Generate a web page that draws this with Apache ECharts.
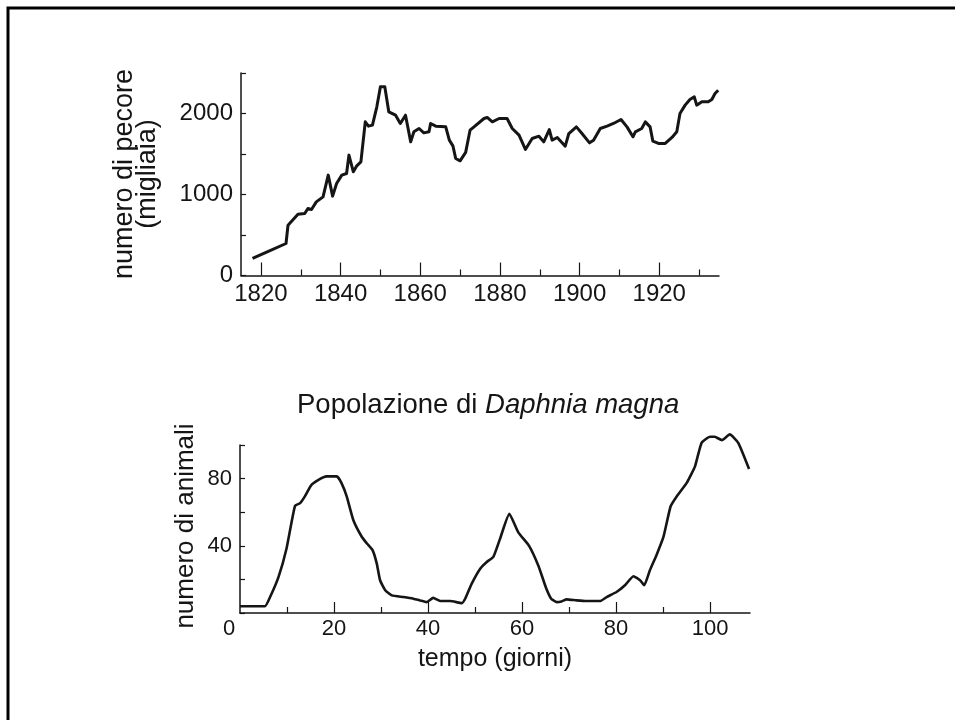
<!DOCTYPE html>
<html>
<head>
<meta charset="utf-8">
<script src="https://cdn.jsdelivr.net/npm/echarts@6/dist/echarts.min.js"></script>
<style>
  html, body { margin: 0; padding: 0; background: #fff; }
  #chart { width: 955px; height: 720px; }
</style>
</head>
<body>
<div id="chart"></div>
<script>
// Sheep population (thousands) by year
const sheepYears = [1817.9, 1822, 1826.3, 1826.8, 1829.3, 1831, 1831.8, 1832.7, 1833.9, 1835.6,
  1836.9, 1838, 1839, 1840.3, 1841.5, 1842.1, 1843.2, 1844, 1845.1, 1846.2,
  1847, 1848, 1849.1, 1850, 1851.1, 1852.1, 1853.8, 1855, 1856.3, 1857.6,
  1858.4, 1859.7, 1860.9, 1862.2, 1862.6, 1863.9, 1866.4, 1867.3, 1868.2, 1868.9,
  1870, 1871.4, 1872.5, 1873.5, 1876, 1876.8, 1878.1, 1879.8, 1881.8, 1883.1,
  1884.8, 1886.4, 1888.1, 1889.8, 1891, 1892.4, 1893.1, 1894.4, 1896.4, 1897.3,
  1899.2, 1900.6, 1902.5, 1903.5, 1905.2, 1906.9, 1908.5, 1910.4, 1911.9, 1913.4,
  1914, 1915.6, 1916.5, 1917.7, 1918.4, 1919.8, 1921.5, 1923.2, 1924.4, 1925.2,
  1926.5, 1927.7, 1928.8, 1929.4, 1930.7, 1932.3, 1933.2, 1934, 1934.8];
const sheepCounts = [210, 300, 395, 620, 757, 765, 827, 815, 909, 971,
  1239, 980, 1136, 1239, 1259, 1486, 1280, 1350, 1403, 1897,
  1844, 1856, 2082, 2329, 2329, 2021, 1979, 1877, 1979, 1650,
  1774, 1815, 1761, 1774, 1877, 1844, 1835, 1671, 1600, 1444,
  1416, 1520, 1794, 1835, 1938, 1951, 1897, 1938, 1938, 1815,
  1733, 1556, 1691, 1720, 1650, 1802, 1671, 1704, 1597, 1753,
  1835, 1753, 1638, 1671, 1815, 1844, 1877, 1926, 1835, 1712,
  1774, 1815, 1897, 1835, 1658, 1630, 1630, 1704, 1774, 2000,
  2103, 2173, 2206, 2103, 2144, 2144, 2173, 2247, 2288];

// Daphnia magna population over time (days)
const daphniaDays = [0, 5.3, 6.4, 8.2, 9.9, 11.7, 12.8, 13.8, 15.2, 16.7,
  18.4, 20.6, 21.6, 22.7, 24.1, 25.9, 27, 28.2, 29.1, 29.8,
  30.9, 32.3, 34.8, 36.9, 38.3, 39.7, 41.1, 42.6, 44.7, 47.2,
  47.9, 49.3, 51.1, 52.5, 53.9, 55.3, 57.3, 59.2, 61.5, 63.5,
  65.1, 66.2, 67.4, 68.4, 69.5, 71.6, 73.7, 76.6, 78, 80.1,
  81.9, 83.7, 85.1, 86, 87.2, 88.6, 90.1, 91.6, 92.9, 95,
  96.8, 98.2, 100, 101, 102.5, 104.2, 106, 108.3];
const daphniaCounts = [4, 4, 9.5, 21.5, 38.4, 63.8, 65.4, 69.4, 76.3, 79.3,
  81.3, 81.3, 77.3, 69.4, 55.4, 45.4, 41.4, 37.4, 29.4, 19.5,
  13.5, 10.5, 9.5, 8.5, 7.5, 6.5, 9, 7.1, 7.1, 5.9,
  8.5, 17.5, 26.4, 30.4, 33.4, 44, 59, 48, 40, 28,
  15, 8.5, 6.5, 6.9, 8.1, 7.5, 7.1, 7.1, 9.5, 12.5,
  16.5, 21.9, 19.5, 16.5, 25.4, 34.4, 45.4, 63.4, 69.4, 77.3,
  87.3, 101.3, 104.9, 104.9, 102.9, 106.3, 101.3, 85.7];

// Tick positions
const sheepMajorTicks = [1820, 1840, 1860, 1880, 1900, 1920];
const sheepMinorTicks = [1830, 1850, 1870, 1890, 1910, 1930];
const daphniaLabelTicks = [0, 20, 40, 60, 80, 100];
const daphniaMajorTicks = [20, 40, 60, 80, 100];
const daphniaMinorTicks = [10, 30, 50, 70, 90];

const FONT = 'Liberation Sans, Arial, Helvetica, sans-serif';
const INK = '#151515';

const sheepData = sheepYears.map((y, i) => [y, sheepCounts[i]]);
const daphniaData = daphniaDays.map((d, i) => [d, daphniaCounts[i]]);

const chart = echarts.init(document.getElementById('chart'), null, { renderer: 'canvas' });

const axisLineStyle = { color: INK, width: 1.5 };
const tickLine = { color: INK, width: 1.2 };

chart.setOption({
  animation: false,
  backgroundColor: '#fff',
  title: {
    text: '{n|Popolazione di }{i|Daphnia magna}',
    left: 292,
    top: 386,
    textStyle: {
      fontWeight: 'normal',
      rich: {
        n: { fontFamily: FONT, fontSize: 27.5, fontWeight: 'normal', color: INK },
        i: { fontFamily: FONT, fontSize: 27.5, fontWeight: 'normal', color: INK, fontStyle: 'italic' }
      }
    }
  },
  grid: [
    { left: 241, top: 73, width: 478, height: 202.5 },
    { left: 240, top: 445, width: 510, height: 168 }
  ],
  xAxis: [
    {
      gridIndex: 0, type: 'value', position: 'bottom', min: 1815, max: 1935,
      axisLine: { onZero: false, lineStyle: axisLineStyle },
      axisTick: { inside: true, length: 13, customValues: sheepMajorTicks, lineStyle: tickLine },
      axisLabel: {
        customValues: sheepMajorTicks, fontFamily: FONT, fontSize: 24, color: INK, margin: 7,
        formatter: v => String(v)
      },
      splitLine: { show: false }
    },
    {
      gridIndex: 0, type: 'value', position: 'bottom', min: 1815, max: 1935,
      axisLine: { show: false, onZero: false },
      axisTick: { inside: true, length: 6, customValues: sheepMinorTicks, lineStyle: tickLine },
      axisLabel: { show: false },
      splitLine: { show: false }
    },
    {
      gridIndex: 1, type: 'value', position: 'bottom', min: 0, max: 108.5,
      axisLine: { onZero: false, lineStyle: axisLineStyle },
      axisTick: { inside: true, length: 11, customValues: daphniaMajorTicks, lineStyle: tickLine },
      axisLabel: {
        customValues: daphniaLabelTicks, fontFamily: FONT, fontSize: 22, color: INK, margin: 5,
        formatter: v => (v === 0 ? '{z|0}' : String(v)),
        rich: { z: { fontFamily: FONT, fontSize: 22, color: INK, padding: [0, 22, 0, 0] } }
      },
      splitLine: { show: false }
    },
    {
      gridIndex: 1, type: 'value', position: 'bottom', min: 0, max: 108.5,
      axisLine: { show: false, onZero: false },
      axisTick: { inside: true, length: 6, customValues: daphniaMinorTicks, lineStyle: tickLine },
      axisLabel: { show: false },
      splitLine: { show: false }
    }
  ],
  yAxis: [
    {
      gridIndex: 0, type: 'value', min: 0, max: 2500, interval: 500,
      axisLine: { show: true, onZero: false, lineStyle: axisLineStyle },
      axisTick: { show: true, inside: true, length: 5, lineStyle: tickLine },
      axisLabel: {
        fontFamily: FONT, fontSize: 24, color: INK, margin: 8,
        formatter: v => (v % 1000 === 0 && v < 2500 ? String(v) : '')
      },
      splitLine: { show: false }
    },
    {
      gridIndex: 1, type: 'value', min: 0, max: 100, interval: 20,
      axisLine: { show: true, onZero: false, lineStyle: axisLineStyle },
      axisTick: { show: true, inside: true, length: 5, lineStyle: tickLine },
      axisLabel: {
        fontFamily: FONT, fontSize: 22, color: INK, margin: 8,
        formatter: v => (v === 40 || v === 80 ? String(v) : '')
      },
      splitLine: { show: false }
    }
  ],
  series: [
    {
      type: 'line', xAxisIndex: 0, yAxisIndex: 0,
      data: sheepData, showSymbol: false, symbol: 'none',
      lineStyle: { color: INK, width: 3, join: 'round' },
      clip: false
    },
    {
      type: 'line', xAxisIndex: 2, yAxisIndex: 1,
      data: daphniaData, showSymbol: false, symbol: 'none', smooth: 0.15,
      lineStyle: { color: INK, width: 2.6, join: 'round' },
      clip: false
    }
  ],
  graphic: [
    {
      type: 'polyline',
      shape: { points: [[8, 722], [8, 8], [957, 8]] },
      style: { stroke: '#000', lineWidth: 3, fill: null }
    },
    {
      type: 'text', x: 136, y: 174, rotation: Math.PI / 2,
      style: {
        text: 'numero di pecore\n(migliaia)', fontFamily: FONT, fontSize: 27, lineHeight: 23,
        fill: INK, align: 'center', verticalAlign: 'middle'
      }
    },
    {
      type: 'text', x: 186, y: 526, rotation: Math.PI / 2,
      style: {
        text: 'numero di animali', fontFamily: FONT, fontSize: 26,
        fill: INK, align: 'center', verticalAlign: 'middle'
      }
    },
    {
      type: 'text', x: 495, y: 659,
      style: {
        text: 'tempo (giorni)', fontFamily: FONT, fontSize: 25,
        fill: INK, align: 'center', verticalAlign: 'middle'
      }
    }
  ]
});
</script>
</body>
</html>
